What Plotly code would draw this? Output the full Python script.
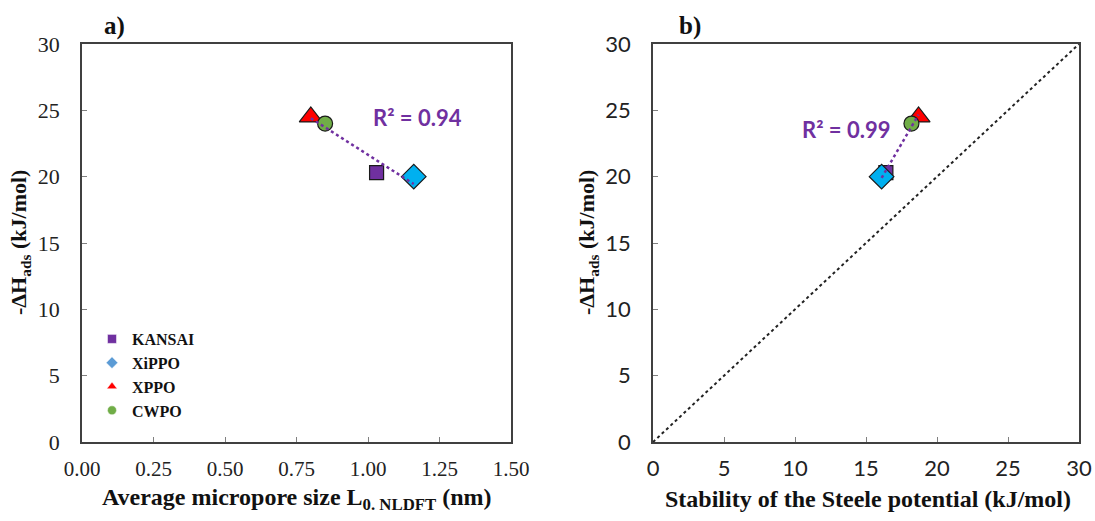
import numpy as np
import plotly.graph_objects as go

# ---------------- data ----------------
samples = ["KANSAI", "XiPPO", "XPPO", "CWPO"]
micropore_size = [1.03, 1.16, 0.80, 0.85]        # L0 NLDFT (nm)
steele_stability = [16.4, 16.1, 18.7, 18.2]      # kJ/mol
dH_ads = [20.3, 20.0, 24.5, 24.0]                # -dH_ads (kJ/mol)
r2_a = "R² = 0.94"
r2_b = "R² = 0.99"
x_ticks_a = [0.00, 0.25, 0.50, 0.75, 1.00, 1.25, 1.50]
x_ticks_b = [0, 5, 10, 15, 20, 25, 30]
y_ticks = [0, 5, 10, 15, 20, 25, 30]

# ---------------- styles ----------------
symbols = ["square", "diamond", "triangle-up", "circle"]
colors = ["#7030A0", "#00B0F0", "#FF0000", "#70AD47"]
legend_colors = ["#7030A0", "#5B9BD5", "#FF0000", "#70AD47"]
sizes = [14, 19, 20, 15]
PURPLE = "#7030A0"
SERIF = "Liberation Serif, Times New Roman, serif"
SANS = "Lato, Carlito, Calibri, sans-serif"

fig = go.Figure()

for i, name in enumerate(samples):
    fig.add_trace(go.Scatter(
        x=[micropore_size[i]], y=[dH_ads[i]], mode="markers", showlegend=False,
        marker=dict(symbol=symbols[i], color=colors[i], size=sizes[i],
                    line=dict(color="#1a1a1a", width=1.2)),
        xaxis="x", yaxis="y"))
for i, name in enumerate(samples):
    fig.add_trace(go.Scatter(
        x=[steele_stability[i]], y=[dH_ads[i]], mode="markers", showlegend=False,
        marker=dict(symbol=symbols[i], color=colors[i], size=sizes[i],
                    line=dict(color="#1a1a1a", width=1.2)),
        xaxis="x2", yaxis="y2"))

# trendlines (least squares from the data)
xa = np.array(micropore_size); ya = np.array(dH_ads)
pa = np.polyfit(xa, ya, 1)
xl = np.array([xa.min(), xa.max()])
fig.add_trace(go.Scatter(x=xl, y=np.polyval(pa, xl), mode="lines", showlegend=False,
                         line=dict(color=PURPLE, width=2.5, dash="dot"),
                         xaxis="x", yaxis="y"))
xb = np.array(steele_stability)
pb = np.polyfit(xb, ya, 1)
xl2 = np.array([xb.min(), xb.max()])
fig.add_trace(go.Scatter(x=xl2, y=np.polyval(pb, xl2), mode="lines", showlegend=False,
                         line=dict(color=PURPLE, width=2.5, dash="dot"),
                         xaxis="x2", yaxis="y2"))
# 1:1 line
fig.add_trace(go.Scatter(x=[x_ticks_b[0], x_ticks_b[-1]], y=[y_ticks[0], y_ticks[-1]],
                         mode="lines", showlegend=False,
                         line=dict(color="#222222", width=2, dash="dot"),
                         xaxis="x2", yaxis="y2"))

# legend entries
for i, name in enumerate(samples):
    fig.add_trace(go.Scatter(
        x=[None], y=[None], mode="markers", name="<b>%s</b>" % name,
        marker=dict(symbol=symbols[i], color=legend_colors[i], size=9,
                    line=dict(color="#ffffff", width=0.5)),
        xaxis="x", yaxis="y"))

W, H = 1095, 521
def px(v): return v / W
def py(v): return 1 - v / H

axis_common = dict(showgrid=False, zeroline=False, ticks="inside", ticklen=5,
                   tickcolor="#808080", linecolor="#404040", linewidth=1.5,
                   mirror=True, showline=True, automargin=False)

fig.update_layout(
    width=W, height=H, margin=dict(l=0, r=0, t=0, b=0, autoexpand=False),
    plot_bgcolor="white", paper_bgcolor="white",
    xaxis=dict(domain=[px(82), px(511)], range=[0, 1.5], tickvals=x_ticks_a,
               tickformat=".2f", tickfont=dict(family=SERIF, size=21, color="#222"),
               ticklabelstandoff=7, anchor="y", **axis_common),
    yaxis=dict(domain=[py(442), py(44)], range=[0, 30], tickvals=y_ticks,
               tickfont=dict(family=SERIF, size=22, color="#222"),
               ticklabelstandoff=16, anchor="x", **axis_common),
    xaxis2=dict(domain=[px(653), px(1079)], range=[0, 30], tickvals=x_ticks_b,
                tickfont=dict(family=SANS, size=22, color="#222"),
                ticklabelstandoff=6, anchor="y2", **axis_common),
    yaxis2=dict(domain=[py(442), py(44)], range=[0, 30], tickvals=y_ticks,
                tickfont=dict(family=SANS, size=22, color="#222"),
                ticklabelstandoff=16, anchor="x2", **axis_common),
    legend=dict(x=px(92), y=py(322), xanchor="left", yanchor="top",
                font=dict(family=SERIF, size=16, color="#111"),
                bgcolor="rgba(0,0,0,0)", itemwidth=30, tracegroupgap=0),
    showlegend=True,
)

def A(text, x, y, size, family, color="#111", angle=0):
    return dict(text=text, x=px(x), y=py(y), xref="paper", yref="paper",
                xanchor="center", yanchor="middle", textangle=angle,
                showarrow=False, font=dict(family=family, size=size, color=color))

ytitle = "<b>-ΔH<sub>ads</sub> (kJ/mol)</b>"
ann = [
    A("<b>a)</b>", 114, 26, 25, SERIF),
    A("<b>b)</b>", 690, 26, 25, SERIF),
    A("<b>%s</b>" % r2_a, 417, 117, 22, SANS, PURPLE),
    A("<b>%s</b>" % r2_b, 846, 129, 22, SANS, PURPLE),
    A(ytitle, 20, 243, 22, SERIF, angle=-90),
    A(ytitle, 588, 243, 22, SERIF, angle=-90),
    A("<b>Average micropore size L<sub>0. NLDFT</sub> (nm)</b>", 297, 499, 24, SERIF),
    A("<b>Stability of the Steele potential (kJ/mol)</b>", 868, 499, 24, SERIF),
]
fig.update_layout(annotations=ann)

fig.write_html("out.html")
